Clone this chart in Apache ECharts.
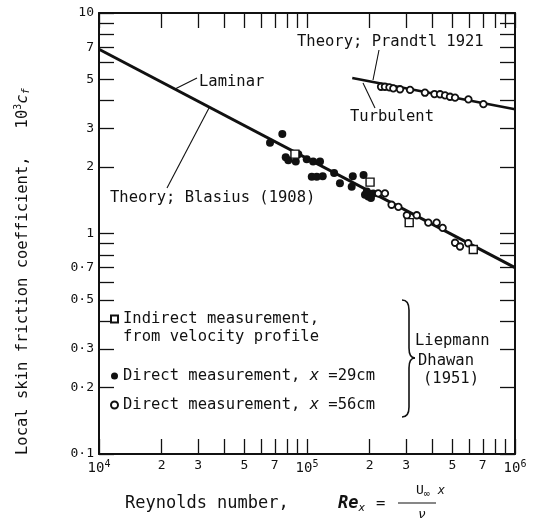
<!DOCTYPE html>
<html>
<head>
<meta charset="utf-8">
<script src="https://cdn.jsdelivr.net/npm/echarts@6/dist/echarts.min.js"></script>
<style>
  html, body { margin: 0; padding: 0; background: #fff; }
  #chart { width: 538px; height: 523px; }
</style>
</head>
<body>
<div id="chart"></div>
<script>
// Reynolds number vs 10^3 c_f
const blasiusLine = [[1e4, 6.85], [1e6, 0.70]]
const prandtlLine = [[1.65e5, 5.07], [1e6, 3.66]]

const indirect = [[8.75e4, 2.29], [2.01e5, 1.71], [3.1e5, 1.12], [6.3e5, 0.846]]

const direct29 = [
  [6.64e4, 2.58], [7.61e4, 2.83], [7.9e4, 2.22], [8.13e4, 2.15], [8.83e4, 2.12],
  [9.08e4, 2.29], [9.97e4, 2.17], [1.07e5, 2.12], [1.155e5, 2.12], [1.054e5, 1.81],
  [1.114e5, 1.81], [1.19e5, 1.82], [1.35e5, 1.88], [1.44e5, 1.69], [1.66e5, 1.82],
  [1.64e5, 1.63], [1.87e5, 1.84], [1.90e5, 1.50], [1.97e5, 1.47], [2.08e5, 1.52],
  [1.94e5, 1.55], [2.03e5, 1.45]
]

const direct56 = [
  [2.2e5, 1.52], [2.37e5, 1.52], [2.55e5, 1.35], [2.75e5, 1.32], [3.02e5, 1.21],
  [3.37e5, 1.21], [3.83e5, 1.12], [4.2e5, 1.12], [4.49e5, 1.06], [5.15e5, 0.908],
  [5.44e5, 0.873], [5.96e5, 0.903],
  [2.27e5, 4.63], [2.37e5, 4.63], [2.49e5, 4.60], [2.6e5, 4.55], [2.8e5, 4.51],
  [3.13e5, 4.48], [3.69e5, 4.35], [4.1e5, 4.29], [4.36e5, 4.28], [4.61e5, 4.23],
  [4.87e5, 4.17], [5.15e5, 4.13], [5.97e5, 4.06], [7.05e5, 3.86]
]

const xTicks = [1e4, 2e4, 3e4, 4e4, 5e4, 6e4, 7e4, 8e4, 9e4,
  1e5, 2e5, 3e5, 4e5, 5e5, 6e5, 7e5, 8e5, 9e5, 1e6]
const xLabels = [1e4, 2e4, 3e4, 5e4, 7e4, 1e5, 2e5, 3e5, 5e5, 7e5, 1e6]
const yTicks = [0.1, 0.2, 0.3, 0.4, 0.5, 0.6, 0.7, 0.8, 0.9,
  1, 2, 3, 4, 5, 6, 7, 8, 9, 10]
const yLabels = [0.1, 0.2, 0.3, 0.5, 0.7, 1, 2, 3, 5, 7, 10]

const FONT = 'DejaVu Sans Mono'
const INK = '#111'

function xLabelFmt(v) {
  const e = Math.floor(Math.log10(v) + 1e-9)
  const m = Math.round(v / Math.pow(10, e))
  return m === 1 ? '{b|10}{s|' + e + '}' : String(m)
}
function yLabelFmt(v) {
  if (v < 1) return '0·' + Math.round(v * 10)
  return String(Math.round(v))
}

function logAxis(min, max, ticks, labels, fmt, pos, showLabel) {
  return {
    type: 'log', logBase: 10, min, max, position: pos,
    axisLine: { show: true, lineStyle: { color: INK, width: 2 } },
    axisTick: { show: true, inside: true, length: 15, customValues: ticks, lineStyle: { color: INK, width: 1.3 } },
    minorTick: { show: false },
    splitLine: { show: false },
    axisLabel: {
      show: showLabel, customValues: labels, formatter: fmt, margin: 5,
      fontFamily: FONT, fontSize: 13, color: INK,
      rich: {
        b: { fontFamily: FONT, fontSize: 14, color: INK },
        s: { fontFamily: FONT, fontSize: 10, color: INK, verticalAlign: 'bottom', padding: [0, 0, 9, 0] }
      }
    }
  }
}

const chart = echarts.init(document.getElementById('chart'))

const txt = (x, y, text, extra) => ({
  type: 'text', x, y,
  style: Object.assign({ text, font: '15.5px "' + FONT + '"', fill: INK, verticalAlign: 'middle' }, extra || {})
})
const seg = (x1, y1, x2, y2, w) => ({
  type: 'line', shape: { x1, y1, x2, y2 }, style: { stroke: INK, lineWidth: w || 1.1 }
})
const curve = (x1, y1, cpx1, cpy1, x2, y2) => ({
  type: 'bezierCurve', shape: { x1, y1, cpx1, cpy1, x2, y2 }, style: { stroke: INK, lineWidth: 1.6, fill: null }
})

chart.setOption({
  backgroundColor: '#fff',
  animation: false,
  grid: { left: 99, right: 23, top: 13, bottom: 69 },
  xAxis: [
    logAxis(1e4, 1e6, xTicks, xLabels, xLabelFmt, 'bottom', true),
    logAxis(1e4, 1e6, xTicks, xLabels, xLabelFmt, 'top', false)
  ],
  yAxis: [
    logAxis(0.1, 10, yTicks, yLabels, yLabelFmt, 'left', true),
    logAxis(0.1, 10, yTicks, yLabels, yLabelFmt, 'right', false)
  ],
  legend: [
    {
      orient: 'vertical', left: 110, top: 311, padding: 0, itemWidth: 7, itemHeight: 7, itemGap: 12,
      data: [{ name: 'Indirect measurement,', icon: 'rect' }],
      textStyle: { fontFamily: FONT, fontSize: 15.5, color: INK }
    },
    {
      orient: 'vertical', left: 110, top: 368, padding: 0, itemWidth: 7, itemHeight: 7, itemGap: 13,
      data: [{ name: 'Direct 29', icon: 'circle' }, { name: 'Direct 56', icon: 'circle' }],
      formatter: n => n === 'Direct 29'
        ? 'Direct measurement, {i|x} =29cm'
        : 'Direct measurement, {i|x} =56cm',
      textStyle: {
        fontFamily: FONT, fontSize: 15.5, color: INK,
        rich: { i: { fontFamily: FONT, fontStyle: 'italic', fontSize: 15.5, color: INK } }
      }
    }
  ],
  series: [
    {
      type: 'line', data: blasiusLine, symbol: 'none', silent: true,
      lineStyle: { color: INK, width: 3 }
    },
    {
      type: 'line', data: prandtlLine, symbol: 'none', silent: true,
      lineStyle: { color: INK, width: 2.5 }
    },
    {
      name: 'Indirect measurement,', type: 'scatter', data: indirect, symbol: 'rect', symbolSize: 8, z: 4,
      itemStyle: { color: '#fff', borderColor: INK, borderWidth: 1.4, opacity: 1 }
    },
    {
      name: 'Direct 29', type: 'scatter', data: direct29, symbol: 'circle', symbolSize: 8, z: 3,
      itemStyle: { color: INK, opacity: 1 }
    },
    {
      name: 'Direct 56', type: 'scatter', data: direct56, symbol: 'circle', symbolSize: 6.5, z: 3,
      itemStyle: { color: '#fff', borderColor: INK, borderWidth: 1.8, opacity: 1 }
    }
  ],
  graphic: [
    txt(199, 82, 'Laminar'),
    seg(197, 78, 175, 89),
    txt(110, 198, 'Theory; Blasius (1908)'),
    seg(167, 188, 209, 108),
    txt(297, 42, 'Theory; Prandtl 1921'),
    seg(379, 50, 373, 80),
    txt(350, 117, 'Turbulent'),
    seg(375, 108, 363, 83),
    txt(123, 337, 'from velocity profile'),
    // brace
    curve(402, 300, 409, 300, 409, 310),
    seg(409, 310, 409, 348, 1.6),
    curve(409, 348, 409, 358, 415, 358),
    curve(415, 358, 409, 358, 409, 368),
    seg(409, 368, 409, 407, 1.6),
    curve(409, 407, 409, 417, 402, 417),
    txt(415, 341, 'Liepmann'),
    txt(418, 361, 'Dhawan'),
    txt(423, 379, '(1951)'),
    {
      type: 'text', x: 23, y: 455, rotation: Math.PI / 2,
      style: {
        text: 'Local skin friction coefficient,   10{s|3}{i|c}{u|f}',
        font: '15.5px "' + FONT + '"', fill: INK, align: 'left', verticalAlign: 'middle',
        rich: {
          s: { fontFamily: FONT, fontSize: 10, fill: INK, verticalAlign: 'bottom', padding: [0, 0, 9, 0] },
          i: { fontFamily: FONT, fontSize: 15.5, fontStyle: 'italic', fill: INK },
          u: { fontFamily: FONT, fontSize: 10, fontStyle: 'italic', fill: INK, verticalAlign: 'top', padding: [8, 0, 0, 0] }
        }
      }
    },
    txt(125, 504, 'Reynolds number,', { font: '17px "' + FONT + '"' }),
    {
      type: 'text', x: 338, y: 504,
      style: {
        text: '{i|Re}{u|x}', fill: INK, verticalAlign: 'middle',
        rich: {
          i: { fontFamily: FONT, fontSize: 17, fontStyle: 'italic', fontWeight: 'bold', fill: INK },
          u: { fontFamily: FONT, fontSize: 11, fontStyle: 'italic', fill: INK, verticalAlign: 'top', padding: [9, 0, 0, 0] }
        }
      }
    },
    txt(376, 504, '='),
    {
      type: 'text', x: 416, y: 491,
      style: {
        text: 'U{u|∞} {i|x}', font: '13px "' + FONT + '"', fill: INK, verticalAlign: 'middle',
        rich: {
          u: { fontFamily: FONT, fontSize: 10, fill: INK, verticalAlign: 'top', padding: [6, 0, 0, 0] },
          i: { fontFamily: FONT, fontSize: 12, fontStyle: 'italic', fill: INK }
        }
      }
    },
    seg(398, 503, 436, 503),
    txt(418, 515, 'ν', { font: 'italic 13px "' + FONT + '"' })
  ]
})
</script>
</body>
</html>
